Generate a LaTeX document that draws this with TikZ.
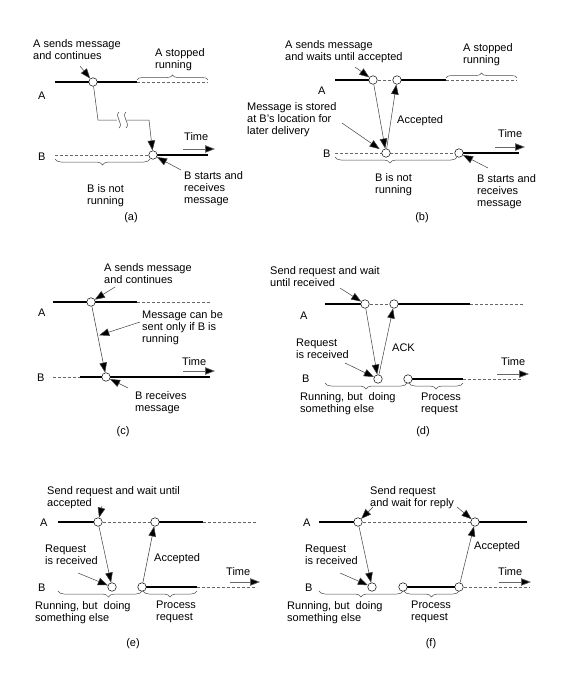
\documentclass[tikz,border=0pt]{standalone}
\usepackage{fontspec}
\setmainfont{Liberation Sans}
\usetikzlibrary{arrows.meta,decorations.pathreplacing,calc}
\begin{document}
\begin{tikzpicture}[x=1pt,y=-1pt,
  run/.style={line width=2.6pt},
  idle/.style={line width=0.5pt, dash pattern=on 3pt off 2pt, black!60},
  busy/.style={double, line width=0.55pt, double distance=1.1pt},
  ev/.style={circle, draw, fill=white, inner sep=0pt, minimum size=8.5pt, line width=0.5pt},
  thinl/.style={line width=0.5pt, black!75},
  msg/.style={line width=0.5pt, draw=black!75, -{Triangle[length=10pt,width=7.5pt,fill=black]}},
  ptr/.style={line width=0.5pt, draw=black!75, -{Triangle[length=10pt,width=7.5pt,fill=black]}},
  tarr/.style={line width=0.6pt, draw=black!60, -{Triangle[length=10pt,width=7.5pt,fill=black]}},
  lbl/.style={font=\fontsize{11}{12}\selectfont, align=left, anchor=north west, inner sep=0pt},
  bl/.style={font=\fontsize{11}{12}\selectfont, anchor=base west, inner sep=0pt},
  sublab/.style={font=\fontsize{11}{12}\selectfont, inner sep=0pt},
  brc/.style={decorate, decoration={brace, amplitude=6pt}, line width=0.5pt, black!70},
]
\useasboundingbox[fill=white] (0,0) rectangle (564,675);

% ================= (a) =================
\draw[run] (55,82) -- (137,82);
\draw[idle] (137,82) -- (208,82);
\draw[idle] (55,155) -- (153,155);
\draw[run] (153,155) -- (208,155);
\node[ev] (as) at (93,82) {};
\node[ev] (ar) at (153,155) {};
\draw[thinl] (as) -- (98,120) -- (117,120);
\draw[thinl] (119,112) .. controls (114,117) and (124,123) .. (119,128);
\draw[thinl] (126,112) .. controls (121,117) and (131,123) .. (126,128);
\draw[msg] (127,120) -- (149,120) -- (ar);
\node[bl] (aA) at (38,99) {A};
\node[bl] (aB) at (38,160) {B};
\node[lbl] (at1) at (33,39) {A sends message\\and continues};
\draw[ptr] (80,66) -- (as);
\node[lbl] (at2) at (155,48) {A stopped\\running};
\draw[brc, decoration={amplitude=5pt}] (137,80) -- (208,80);
\node[lbl] (at3) at (87,184) {B is not\\running};
\draw[brc] (150,159) -- (55,159);
\node[lbl] (at4) at (184,171) {B starts and\\receives\\message};
\draw[ptr] (181,170) -- (ar);
\node[bl] (atime) at (184,140) {Time};
\draw[tarr] (183,149) -- (215,149);
\node[sublab] (alab) at (131,218) {(a)};

% ================= (b) =================
\draw[run] (335,80) -- (373,80);
\draw[idle] (373,80) -- (397,80);
\draw[run] (397,80) -- (446,80);
\draw[idle] (446,80) -- (517,80);
\draw[idle] (335,153) -- (459,153);
\draw[run] (459,153) -- (519,153);
\node[ev] (b1) at (373,80) {};
\node[ev] (b2) at (397,80) {};
\node[ev] (b3) at (386,153) {};
\node[ev] (b4) at (459,153) {};
\draw[msg] (b1) -- (b3);
\draw[msg] (b3) -- (b2);
\node[bl] (bA) at (318,94) {A};
\node[bl] (bB) at (323,157) {B};
\node[lbl] (bt1) at (285,40) {A sends message\\and waits until accepted};
\draw[ptr] (355,67) -- (b1);
\node[lbl] (bt2) at (247,102) {Message is stored\\at B's location for\\later delivery};
\draw[ptr, shorten >=3pt] (342,123) -- (b3.150);
\node[bl] (bacc) at (397,123) {Accepted};
\node[lbl] (bt3) at (463,43) {A stopped\\running};
\draw[brc, decoration={amplitude=5pt}] (446,78) -- (517,78);
\node[lbl] (bt4) at (375,173) {B is not\\running};
\draw[brc, decoration={aspect=0.55}] (457,157) -- (335,157);
\node[lbl] (bt5) at (477,174) {B starts and\\receives\\message};
\draw[ptr] (488,168) -- (b4);
\node[bl] (btime) at (498,137) {Time};
\draw[tarr] (495,147) -- (525,147);
\node[sublab] (blab) at (422,218) {(b)};

% ================= (c) =================
\draw[run] (53,302) -- (137,302);
\draw[idle] (137,302) -- (210,302);
\draw[idle] (53,377) -- (80,377);
\draw[run] (80,377) -- (210,377);
\node[ev] (c1) at (91,302) {};
\node[ev] (c2) at (106,377) {};
\draw[msg] (c1) -- (c2);
\node[bl] (cA) at (38,316) {A};
\node[bl] (cB) at (37,381) {B};
\node[lbl] (ct1) at (104,263) {A sends message\\and continues};
\draw[ptr] (115,287) -- (c1);
\node[lbl] (ct2) at (142,310) {Message can be\\sent only if B is\\running};
\coordinate (cm) at ($(c1)!0.45!(c2)$);
\draw[ptr, shorten >=1.5pt] (140,322) -- (cm);
\node[lbl] (ct3) at (135,391) {B receives\\message};
\draw[ptr] (128,388) -- (c2);
\node[bl] (ctime) at (182,365) {Time};
\draw[tarr] (183,371) -- (215,371);
\node[sublab] (clab) at (123,432) {(c)};

% ================= (d) =================
\draw[run] (325,304) -- (365,304);
\draw[idle] (365,304) -- (394,304);
\draw[run] (394,304) -- (470,304);
\draw[idle] (470,304) -- (523,304);
\draw[busy] (325,379) -- (408,379);
\draw[run] (408,379) -- (463,379);
\draw[idle] (463,379) -- (523,379);
\node[ev] (d1) at (365,304) {};
\node[ev] (d2) at (394,304) {};
\node[ev] (d3) at (378,379) {};
\node[ev] (d4) at (408,379) {};
\draw[msg] (d1) -- (d3);
\draw[msg] (d3) -- (d2);
\node[bl] (dA) at (300,319) {A};
\node[bl] (dB) at (302,382) {B};
\node[lbl] (dt1) at (270,266) {Send request and wait\\until received};
\draw[ptr] (340,288) -- (d1);
\node[lbl] (dt2) at (296,339) {Request\\is received};
\draw[ptr] (345,363) -- (d3);
\node[bl] (dack) at (392,351) {ACK};
\node[lbl] (dt3) at (300,392) {Running, but~ doing\\something else};
\draw[brc] (407,383) -- (325,383);
\node[lbl] (dt4) at (421,393) {Process\\request};
\draw[brc] (463,383) -- (409,383);
\node[bl] (dtime) at (501,365) {Time};
\draw[tarr] (497,374) -- (529,374);
\node[sublab] (dlab) at (423,432) {(d)};

% ================= (e) =================
\draw[run] (58,522) -- (98,522);
\draw[idle] (98,522) -- (155,522);
\draw[run] (155,522) -- (203,522);
\draw[idle] (203,522) -- (257,522);
\draw[busy] (58,587) -- (142,587);
\draw[run] (142,587) -- (197,587);
\draw[idle] (197,587) -- (257,587);
\node[ev] (e1) at (98,522) {};
\node[ev] (e2) at (155,522) {};
\node[ev] (e3) at (112,587) {};
\node[ev] (e4) at (142,587) {};
\draw[msg] (e1) -- (e3);
\draw[msg] (e4) -- (e2);
\node[bl] (eA) at (40,526) {A};
\node[bl] (eB) at (38,591) {B};
\node[lbl] (et1) at (47,486) {Send request and wait until\\accepted};
\draw[ptr] (102,506) -- (e1);
\node[lbl] (et2) at (45,545) {Request\\is received};
\draw[ptr] (78,573) -- (e3);
\node[bl] (eacc) at (154,561) {Accepted};
\node[lbl] (et3) at (35,601) {Running, but~ doing\\something else};
\draw[brc, decoration={aspect=0.4}] (142,591) -- (58,591);
\node[lbl] (et4) at (156,601) {Process\\request};
\draw[brc] (197,591) -- (143,591);
\node[bl] (etime) at (226,575) {Time};
\draw[tarr] (230,582) -- (260,582);
\node[sublab] (elab) at (133,644) {(e)};

% ================= (f) =================
\draw[run] (319,522) -- (358,522);
\draw[idle] (358,522) -- (475,522);
\draw[run] (475,522) -- (527,522);
\draw[busy] (319,587) -- (403,587);
\draw[run] (403,587) -- (459,587);
\draw[idle] (459,587) -- (530,587);
\node[ev] (f1) at (358,522) {};
\node[ev] (f2) at (475,522) {};
\node[ev] (f3) at (372,587) {};
\node[ev] (f4) at (403,587) {};
\node[ev] (f5) at (459,587) {};
\draw[msg] (f1) -- (f3);
\draw[msg] (f5) -- (f2);
\node[bl] (fA) at (303,526) {A};
\node[bl] (fB) at (305,591) {B};
\node[lbl] (ft1) at (370,486) {Send request\\and wait for reply};
\draw[ptr] (373,507) -- (f1);
\draw[ptr] (457,507) -- (f2);
\node[lbl] (ft2) at (305,545) {Request\\is received};
\draw[ptr] (340,573) -- (f3);
\node[bl] (facc) at (474,549) {Accepted};
\node[lbl] (ft3) at (287,601) {Running, but~ doing\\something else};
\draw[brc] (403,591) -- (319,591);
\node[lbl] (ft4) at (411,601) {Process\\request};
\draw[brc] (459,591) -- (404,591);
\node[bl] (ftime) at (498,575) {Time};
\draw[tarr] (499,582) -- (531,582);
\node[sublab] (flab) at (431,644) {(f)};
\end{tikzpicture}
\end{document}
